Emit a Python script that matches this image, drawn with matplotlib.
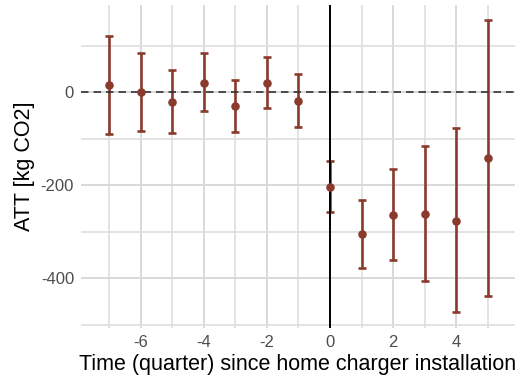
import matplotlib.pyplot as plt
from matplotlib.ticker import MultipleLocator

plt.rcParams['font.family'] = ['Liberation Sans', 'DejaVu Sans']
plt.rcParams['axes.unicode_minus'] = False

# event-study estimates by quarter relative to installation
quarters = [-7, -6, -5, -4, -3, -2, -1, 0, 1, 2, 3, 4, 5]
att = [16, 1, -20, 21, -30, 21, -18, -203, -305, -264, -261, -276, -141]
ci_low = [-89, -82, -88, -40, -85, -34, -74, -258, -378, -361, -405, -473, -437]
ci_high = [121, 85, 48, 84, 26, 77, 39, -148, -232, -165, -116, -77, 155]

W, H = 519, 383
fig = plt.figure(figsize=(W / 100, H / 100), dpi=100)
left, right, top, bottom = 81, 515, 5, 327.6
ax = fig.add_axes([left / W, 1 - bottom / H, (right - left) / W, (bottom - top) / H])

color = '#8a3b2e'
yerr = [[a - lo for a, lo in zip(att, ci_low)], [hi - a for a, hi in zip(att, ci_high)]]
ax.errorbar(quarters, att, yerr=yerr, fmt='none', ecolor=color, elinewidth=1.9,
            capsize=2.6, capthick=1.9, zorder=3)
ax.axhline(0, color='#333333', lw=1.2, ls=(0, (4.5, 3)), zorder=4)
ax.axvline(0, color='black', lw=1.4, zorder=5)
ax.scatter(quarters, att, s=38, color=color, zorder=6, linewidths=0)

ax.set_xlim(-7.9, 5.87)
ax.set_ylim(-506, 188)
ax.xaxis.set_major_locator(MultipleLocator(2))
ax.xaxis.set_minor_locator(MultipleLocator(1))
ax.yaxis.set_major_locator(MultipleLocator(200))
ax.yaxis.set_minor_locator(MultipleLocator(100))
ax.grid(which='major', color='#d9d9d9', lw=1.4)
ax.grid(which='minor', color='#dedede', lw=1.2)
ax.set_axisbelow(True)
for s in ax.spines.values():
    s.set_visible(False)
ax.tick_params(which='both', length=0, labelsize=12, labelcolor='#4d4d4d', pad=5)

ax.set_xlabel('Time (quarter) since home charger installation', fontsize=15.5, labelpad=3)
ax.set_ylabel('ATT [kg CO2]', fontsize=15.5, labelpad=4)

plt.savefig('out.png', dpi=100)
